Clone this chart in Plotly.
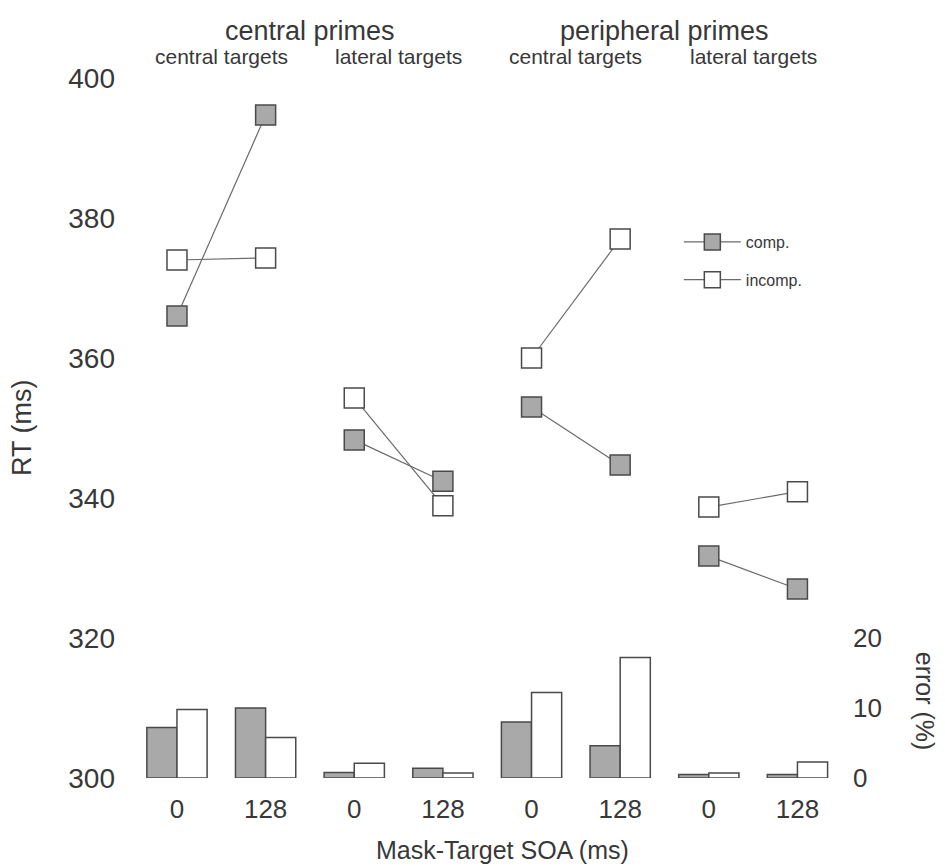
import plotly.graph_objects as go

soa_labels = ["0", "128", "0", "128", "0", "128", "0", "128"]
prime_groups = ["central primes", "peripheral primes"]
target_groups = ["central targets", "lateral targets", "central targets", "lateral targets"]

rt_comp = [366.0, 394.7, 348.3, 342.4, 353.0, 344.7, 331.7, 327.0]
rt_incomp = [374.0, 374.3, 354.3, 338.9, 360.0, 377.0, 338.7, 340.9]
err_comp = [7.2, 10.0, 0.8, 1.4, 8.0, 4.6, 0.5, 0.5]
err_incomp = [9.8, 5.8, 2.1, 0.7, 12.2, 17.2, 0.7, 2.3]

pos = list(range(len(soa_labels)))

def with_gaps(vals):
    xs, ys = [], []
    for g in range(0, len(vals), 2):
        xs += [pos[g], pos[g + 1], None]
        ys += [vals[g], vals[g + 1], None]
    return xs, ys

TXT = "#383838"
EDGE = "#4a4a4a"
GRAY = "#a9a9a9"
FONT = "Liberation Sans"

fig = go.Figure()

# error bars (right axis)
fig.add_trace(go.Bar(x=pos, y=err_comp, yaxis="y2", marker=dict(color=GRAY, line=dict(color=EDGE, width=1.5)),
                     showlegend=False, offsetgroup="a"))
fig.add_trace(go.Bar(x=pos, y=err_incomp, yaxis="y2", marker=dict(color="white", line=dict(color=EDGE, width=1.5)),
                     showlegend=False, offsetgroup="b"))

xc, yc = with_gaps(rt_comp)
xi, yi = with_gaps(rt_incomp)
fig.add_trace(go.Scatter(x=xc, y=yc, mode="lines+markers", name="comp.", legendgroup="c",
                         line=dict(color="#6a6a6a", width=1.2),
                         marker=dict(symbol="square", size=20, color=GRAY, line=dict(color=EDGE, width=1.5)),
                         cliponaxis=False))
fig.add_trace(go.Scatter(x=xi, y=yi, mode="lines+markers", name="incomp.", legendgroup="i",
                         line=dict(color="#6a6a6a", width=1.2),
                         marker=dict(symbol="square", size=20, color="white", line=dict(color=EDGE, width=1.5)),
                         cliponaxis=False))

annotations = []
for i, t in enumerate(prime_groups):
    annotations.append(dict(x=4 * i + 1.5, y=1.067, xref="x", yref="paper", text=t, showarrow=False,
                            font=dict(size=27, color=TXT), yanchor="middle"))
for i, t in enumerate(target_groups):
    annotations.append(dict(x=2 * i + 0.5, y=1.030, xref="x", yref="paper", text=t, showarrow=False,
                            font=dict(size=21, color=TXT), yanchor="middle"))
annotations.append(dict(x=0.525, y=-0.103, xref="paper", yref="paper", text="Mask-Target SOA (ms)",
                        showarrow=False, font=dict(size=25, color=TXT), yanchor="middle"))
annotations.append(dict(x=-0.152, y=0.5, xref="paper", yref="paper", text="RT (ms)", textangle=-90,
                        showarrow=False, font=dict(size=27, color=TXT), xanchor="center", yanchor="middle"))
annotations.append(dict(x=1.12, y=0.11, xref="paper", yref="paper", text="error (%)", textangle=90,
                        showarrow=False, font=dict(size=25, color=TXT), xanchor="center", yanchor="middle"))

fig.update_layout(
    width=945, height=866,
    margin=dict(l=130, r=105, t=78, b=88),
    paper_bgcolor="white", plot_bgcolor="white",
    font=dict(family=FONT, color=TXT),
    barmode="group", bargap=0.32, bargroupgap=0,
    xaxis=dict(range=[-0.53, 7.48], tickmode="array", tickvals=pos, ticktext=soa_labels,
               showgrid=False, zeroline=False, showline=False, ticks="", tickfont=dict(size=26, color=TXT),
               ticklabelstandoff=13),
    yaxis=dict(range=[300, 400], tickvals=[300, 320, 340, 360, 380, 400], showgrid=False, zeroline=False,
               showline=False, ticks="", tickfont=dict(size=28, color=TXT), ticklabelstandoff=14),
    yaxis2=dict(range=[0, 100], overlaying="y", side="right", tickvals=[0, 10, 20], showgrid=False,
                zeroline=False, showline=False, ticks="", tickfont=dict(size=26, color=TXT), ticklabelstandoff=12),
    legend=dict(x=0.773, y=0.79, xanchor="left", yanchor="top", bgcolor="rgba(0,0,0,0)",
                font=dict(size=16, color=TXT), itemwidth=57, traceorder="grouped", tracegroupgap=14),
    annotations=annotations,
)

fig.write_html("out.html")
